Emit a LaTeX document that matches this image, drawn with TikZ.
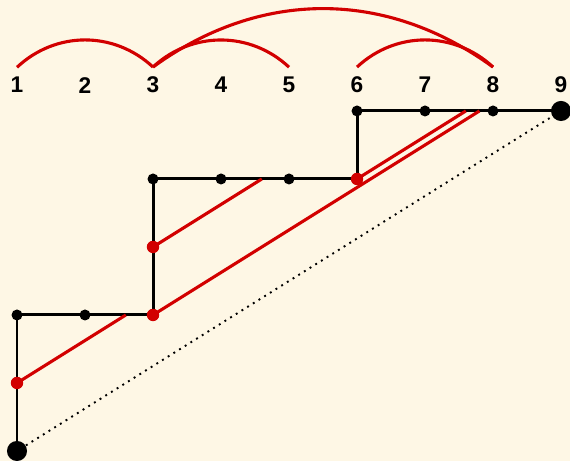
\documentclass[tikz,border=0pt]{standalone}
\usepackage{fontspec}
\setmainfont{Liberation Sans}
\usetikzlibrary{backgrounds}
\definecolor{paper}{RGB}{254,247,229}
\definecolor{chordred}{RGB}{210,0,0}
\begin{document}
\begin{tikzpicture}[x=1cm,y=1cm,
  dot/.style={circle,fill=black,inner sep=0pt,minimum size=4.6pt},
  bigdot/.style={circle,fill=black,inner sep=0pt,minimum size=8.4pt},
  reddot/.style={circle,fill=chordred,inner sep=0pt,minimum size=5.2pt},
  walk/.style={line width=1.25pt,black},
  chord/.style={line width=1.3pt,chordred},
  num/.style={font=\fontsize{9.5}{11}\selectfont\bfseries,inner sep=0pt}]
\useasboundingbox (-0.25,-0.147) rectangle (8.132,6.632);
% lattice path
\node[bigdot] (s) at (0,0) {};
\node[reddot] (u1) at (0,1) {};
\node[dot] (c1) at (0,2) {};
\node[dot] (h1) at (1,2) {};
\node[reddot] (u2) at (2,2) {};
\node[reddot] (u3) at (2,3) {};
\node[dot] (c2) at (2,4) {};
\node[dot] (h2) at (3,4) {};
\node[dot] (h3) at (4,4) {};
\node[reddot] (u4) at (5,4) {};
\node[dot] (c3) at (5,5) {};
\node[dot] (h4) at (6,5) {};
\node[dot] (h5) at (7,5) {};
\node[bigdot] (e) at (8,5) {};
% free ends of the red lines
\coordinate (r1) at (1.6,2);
\coordinate (r2) at (3.6,4);
\coordinate (r3) at (6.8,5);
\coordinate (r4) at (6.6,5);
\begin{scope}[on background layer]
\fill[paper] (-0.25,-0.147) rectangle (8.132,6.632);
\draw[dotted,line width=0.8pt] (s) -- (e);
\draw[walk] (s.center) -- (c1.center) -- (u2.center) -- (c2.center) -- (u4.center) -- (c3.center) -- (e.center);
\draw[chord] (u1.center) -- (r1);
\draw[chord] (u3.center) -- (r2);
\draw[chord] (u2.center) -- (r3);
\draw[chord] (u4.center) -- (r4);
\end{scope}
% labels and arcs
\foreach \i in {1,...,9} \node[num] (l\i) at ({\i-1},5.38) {\i};
\draw[chord] ([yshift=4pt]l1.north) to[bend left=43] ([yshift=4pt]l3.north);
\draw[chord] ([yshift=4pt]l3.north) to[bend left=43] ([yshift=4pt]l5.north);
\draw[chord] ([yshift=4pt]l6.north) to[bend left=43] ([yshift=4pt]l8.north);
\draw[chord] ([yshift=4pt]l3.north) to[bend left=36] ([yshift=4pt]l8.north);
\end{tikzpicture}
\end{document}
